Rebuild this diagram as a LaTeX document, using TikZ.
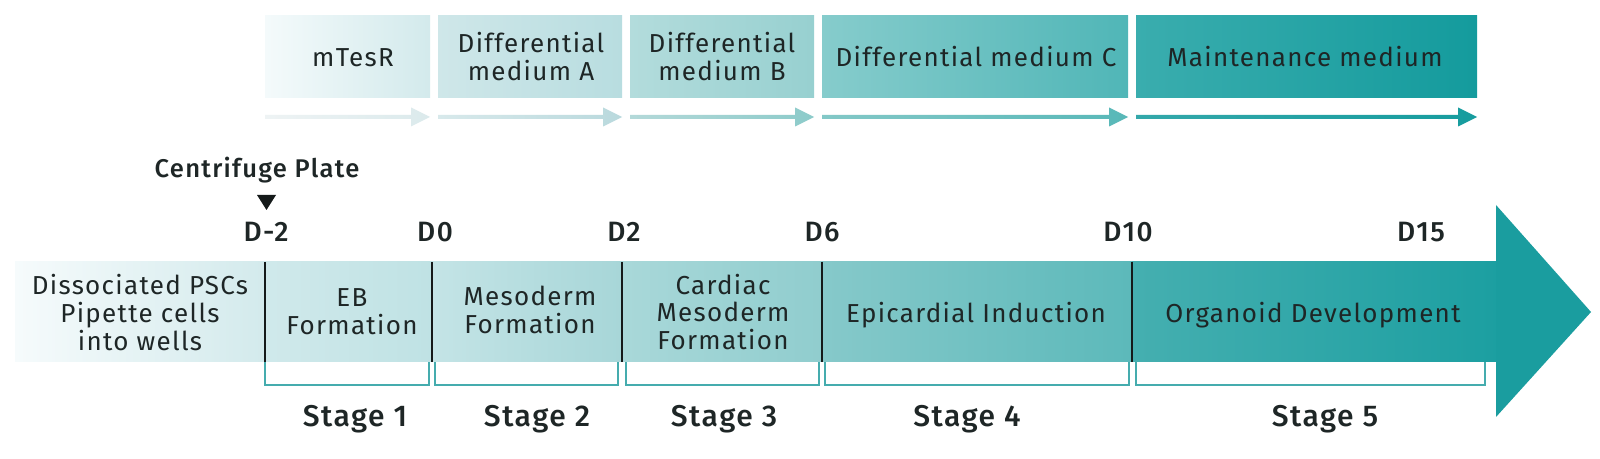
\documentclass[tikz,border=0pt]{standalone}
\usepackage{fontspec}
\setmainfont{Fira Sans}[LetterSpace=5]
\newfontfamily\medfont{Fira Sans Medium}[LetterSpace=5]
\definecolor{txtc}{HTML}{1E2626}
\definecolor{brk}{HTML}{45ACAE}
\definecolor{linec}{HTML}{151A1A}
\definecolor{headc}{RGB}{26,157,159}
\newcommand\ml[1]{\begin{tabular}[t]{@{}c@{}}#1\end{tabular}}
\newcommand\toparrow[4]{\shade[left color=#3,right color=#4] (#1,115) -- ({#2-19},115) -- ({#2-19},107.5) -- (#2,117) -- ({#2-19},126.5) -- ({#2-19},119) -- (#1,119) -- cycle;}
\begin{document}
\begin{tikzpicture}[x=0.5pt,y=-0.5pt,
  lbl/.style={text=txtc, inner sep=0pt, anchor=base, font=\fontsize{13}{12.5}\selectfont},
  daylbl/.style={text=txtc, inner sep=0pt, anchor=base, font=\medfont\fontsize{14}{14}\selectfont},
  stagelbl/.style={text=txtc, inner sep=0pt, anchor=base, font=\medfont\fontsize{15}{15}\selectfont},
  tick/.style={draw=linec, line width=1.35pt},
  bracket/.style={draw=brk, line width=1pt}]
\useasboundingbox (0,0) rectangle (1600,459);
\fill[white] (0,0) rectangle (1600,459);
% ---- top medium boxes
\shade[left color={rgb,255:red,244;green,250;blue,251},right color={rgb,255:red,211;green,234;blue,236}] (265,16) rectangle (430,98);
\shade[left color={rgb,255:red,207;green,231;blue,233},right color={rgb,255:red,184;green,221;blue,224}] (438,16) rectangle (622,98);
\shade[left color={rgb,255:red,179;green,220;blue,220},right color={rgb,255:red,151;green,208;blue,208}] (630,16) rectangle (814,98);
\shade[left color={rgb,255:red,134;green,204;blue,204},right color={rgb,255:red,80;green,182;blue,183}] (822,16) rectangle (1128,98);
\shade[left color={rgb,255:red,58;green,173;blue,174},right color={rgb,255:red,20;green,155;blue,157}] (1136,16) rectangle (1477,98);
\node[lbl] (mt) at (353,67) {mTesR};
\node[lbl] (ma) at (531,53) {\ml{Differential\\medium A}};
\node[lbl] (mb) at (722,53) {\ml{Differential\\medium B}};
\node[lbl] (mc) at (976,67) {Differential medium C};
\node[lbl] (mm) at (1305,67) {Maintenance medium};
% ---- top arrows
\toparrow{265}{430}{{rgb,255:red,238;green,243;blue,244}}{{rgb,255:red,219;green,234;blue,236}}
\toparrow{438}{622}{{rgb,255:red,216;green,233;blue,235}}{{rgb,255:red,185;green,217;blue,221}}
\toparrow{630}{814}{{rgb,255:red,180;green,217;blue,217}}{{rgb,255:red,140;green,203;blue,202}}
\toparrow{822}{1128}{{rgb,255:red,131;green,200;blue,199}}{{rgb,255:red,88;green,184;blue,184}}
\toparrow{1136}{1477}{{rgb,255:red,51;green,168;blue,170}}{{rgb,255:red,22;green,156;blue,158}}
% ---- main band
\shade[left color={rgb,255:red,246;green,251;blue,252},right color={rgb,255:red,211;green,234;blue,236}] (15,262) rectangle (265,362);
\shade[left color={rgb,255:red,208;green,233;blue,235},right color={rgb,255:red,191;green,226;blue,228}] (265,262) rectangle (432,362);
\shade[left color={rgb,255:red,196;green,228;blue,230},right color={rgb,255:red,167;green,214;blue,216}] (432,262) rectangle (622,362);
\shade[left color={rgb,255:red,169;green,216;blue,217},right color={rgb,255:red,144;green,205;blue,206}] (622,262) rectangle (822,362);
\shade[left color={rgb,255:red,134;green,201;blue,202},right color={rgb,255:red,92;green,185;blue,186}] (822,262) rectangle (1132,362);
\shade[left color={rgb,255:red,69;green,175;blue,176},right color={rgb,255:red,28;green,159;blue,161}] (1132,262) rectangle (1497,362);
\fill[headc] (1496,205) -- (1591,312) -- (1496,417) -- cycle;
% ---- ticks
\foreach \x in {265,432,622,822,1132} \draw[tick] (\x,262) -- (\x,362);
% ---- brackets
\draw[bracket] (265,362) -- (265,385) -- (429,385) -- (429,362);
\draw[bracket] (435,362) -- (435,385) -- (618,385) -- (618,362);
\draw[bracket] (626,362) -- (626,385) -- (819,385) -- (819,362);
\draw[bracket] (825,362) -- (825,385) -- (1129,385) -- (1129,362);
\draw[bracket] (1136,362) -- (1136,385) -- (1485,385) -- (1485,362);
% ---- band texts
\node[lbl] (t0) at (140,295) {\ml{Dissociated PSCs\\Pipette cells\\into wells}};
\node[lbl] (t1) at (352,307) {\ml{EB\\Formation}};
\node[lbl] (t2) at (530,306) {\ml{Mesoderm\\Formation}};
\node[lbl] (t3) at (723,295) {\ml{Cardiac\\Mesoderm\\Formation}};
\node[lbl] (t4) at (976,323) {Epicardial Induction};
\node[lbl] (t5) at (1313,323) {Organoid Development};
% ---- day labels
\node[daylbl] (d1) at (266,242) {D-2};
\node[daylbl] (d2) at (435,242) {D0};
\node[daylbl] (d3) at (624,242) {D2};
\node[daylbl] (d4) at (822,242) {D6};
\node[daylbl] (d5) at (1128,242) {D10};
\node[daylbl] (d6) at (1421,242) {D15};
% ---- centrifuge
\node[text=txtc, inner sep=0pt, anchor=base, font=\medfont\fontsize{12.8}{12.8}\selectfont] (cp) at (257,178) {Centrifuge Plate};
\fill[linec] (257,195) -- (276,195) -- (266.5,210) -- cycle;
% ---- stages
\node[stagelbl] (s1) at (355,427) {Stage 1};
\node[stagelbl] (s2) at (537,427) {Stage 2};
\node[stagelbl] (s3) at (724,427) {Stage 3};
\node[stagelbl] (s4) at (967,427) {Stage 4};
\node[stagelbl] (s5) at (1325,427) {Stage 5};
\end{tikzpicture}
\end{document}
